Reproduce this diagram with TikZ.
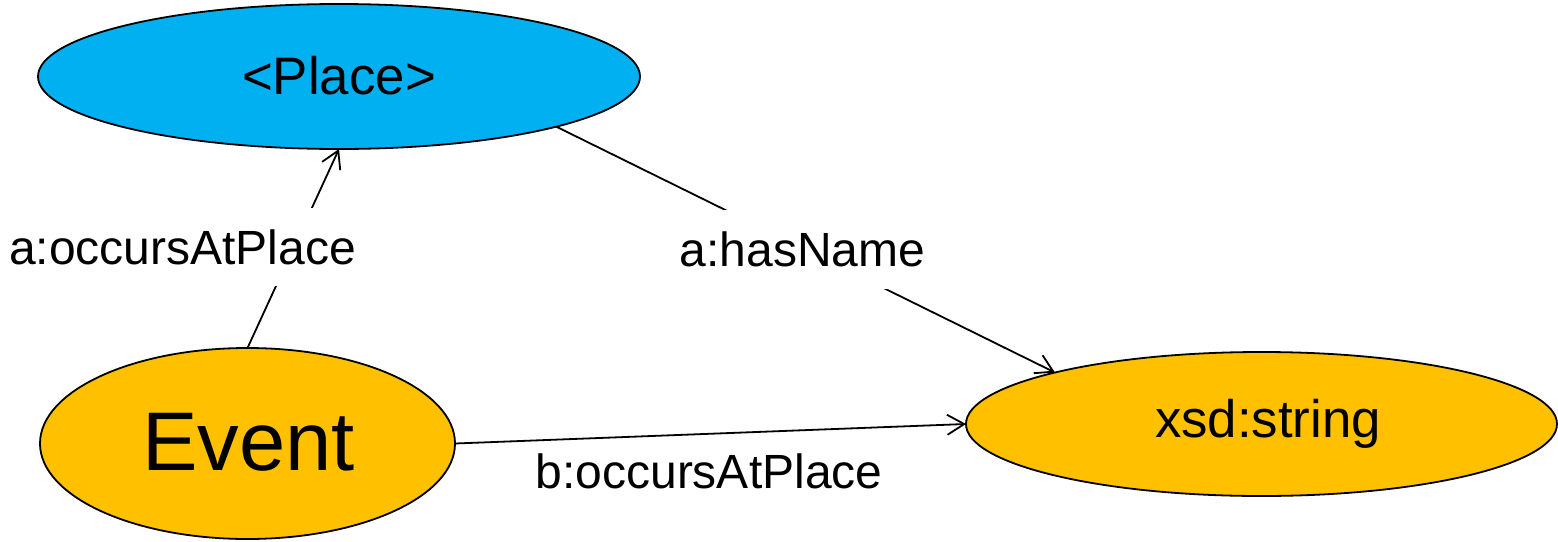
\documentclass[tikz,border=0pt]{standalone}
\usepackage{fontspec}
\setmainfont{Liberation Sans}
\usetikzlibrary{shapes.geometric,arrows.meta}
\definecolor{placeblue}{HTML}{00B0F0}
\definecolor{eventgold}{HTML}{FFC000}
\tikzset{
  ell/.style={ellipse, draw=black, line width=0.9pt, inner sep=0pt, outer sep=0pt},
  conn/.style={line width=0.9pt, -{Straight Barb[length=8.5pt,width=10pt,line width=0.9pt]}},
  lbl/.style={font=\fontsize{24}{28}\selectfont, inner sep=0pt},
  gaplbl/.style={lbl, fill=white, inner xsep=4pt}
}
\begin{document}
\begin{tikzpicture}[x=0.5pt,y=-0.5pt]
\useasboundingbox (0,0) rectangle (1558,541);
\node[ell, fill=placeblue, minimum width=301pt, minimum height=72.5pt,
      font=\fontsize{26.4}{30}\selectfont] (pl) at (339,76.5) {\raisebox{1.5pt}{<Place>}};
\node[ell, fill=eventgold, minimum width=207.5pt, minimum height=95.5pt,
      font=\fontsize{41.6}{48}\selectfont] (ev) at (247.5,443.5) {\raisebox{1.5pt}{\hspace*{1pt}Event}};
\node[ell, fill=eventgold, minimum width=295.5pt, minimum height=72pt,
      font=\fontsize{26.4}{30}\selectfont] (xs) at (1261.5,424) {\hspace*{6.5pt}xsd:string};
\draw[conn] (ev.north) -- (pl.south);
\draw[conn] (pl.-13.5) -- (xs.166.3);
\draw[conn] (ev.east) -- (xs.west);
\node[gaplbl, minimum height=39pt] (l1) at (182.5,247) {a:occursAtPlace};
\node[gaplbl, minimum height=39.5pt] (l2) at (802.5,249) {a:hasName};
\node[lbl, anchor=base] (l3) at (709,488) {b:occursAtPlace};
\end{tikzpicture}
\end{document}
